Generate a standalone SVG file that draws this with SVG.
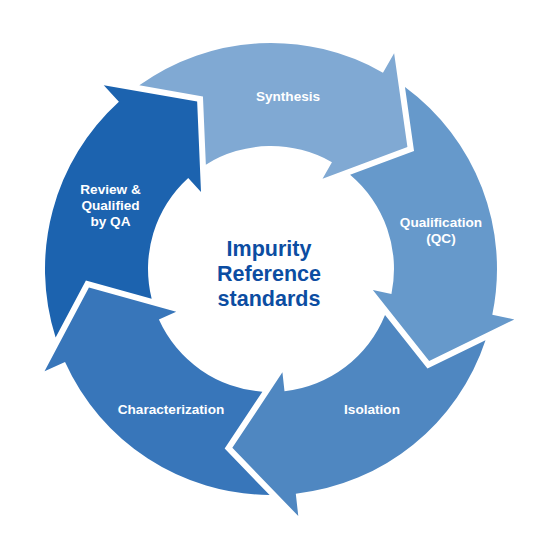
<svg xmlns="http://www.w3.org/2000/svg" xmlns:xlink="http://www.w3.org/1999/xlink" width="560" height="560" viewBox="0 0 560 560">
  <style>
    .lbl { font-family: "Liberation Sans", Arial, sans-serif; font-weight: bold; font-size: 13.6px; fill: #FFFFFF; text-anchor: middle; }
    .ctr { font-family: "Liberation Sans", Arial, sans-serif; font-weight: bold; font-size: 21.5px; fill: #0C4DA2; text-anchor: middle; }
  </style>
  <defs>
    <path id="arrow" d="M140.26,84.65 A226,226 0 0 1 384,73.28 L395.25,53.79 L408.06,147.74 L323,178.93 L332.5,162.48 A123,123 0 0 0 206.4,164.34 L203.85,96.14 Z"/>
  </defs>
  <rect width="560" height="560" fill="#FFFFFF"/>
  <g id="connectors"/>
  <g id="node-synthesis">
    <use xlink:href="#arrow" href="#arrow" fill="#80A9D3" transform="rotate(-0.3 271 269)"/>
    <text class="lbl" x="288" y="101">Synthesis</text>
  </g>
  <g id="node-qualification">
    <use xlink:href="#arrow" href="#arrow" fill="#6699CB" transform="rotate(71.7 271 269)"/>
    <text class="lbl" x="441" y="226.5">Qualification</text>
    <text class="lbl" x="441" y="242.5">(QC)</text>
  </g>
  <g id="node-isolation">
    <use xlink:href="#arrow" href="#arrow" fill="#4F87C1" transform="rotate(143.7 271 269)"/>
    <text class="lbl" x="372" y="414">Isolation</text>
  </g>
  <g id="node-characterization">
    <use xlink:href="#arrow" href="#arrow" fill="#3876BA" transform="rotate(215.7 271 269)"/>
    <text class="lbl" x="171" y="413.5">Characterization</text>
  </g>
  <g id="node-review">
    <use xlink:href="#arrow" href="#arrow" fill="#1C63AF" transform="rotate(287.7 271 269)"/>
    <text class="lbl" x="110.5" y="194.3">Review &amp;</text>
    <text class="lbl" x="110.5" y="210">Qualified</text>
    <text class="lbl" x="110.5" y="225.5">by QA</text>
  </g>
  <g id="node-center">
    <text class="ctr" x="269" y="256">Impurity</text>
    <text class="ctr" x="269" y="281">Reference</text>
    <text class="ctr" x="269" y="305.5">standards</text>
  </g>
</svg>
